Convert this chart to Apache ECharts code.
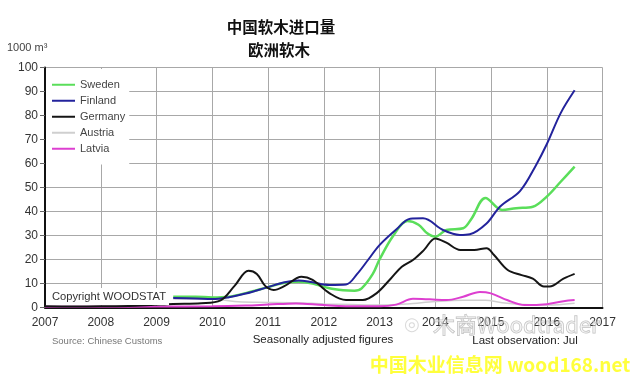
<!DOCTYPE html>
<html>
<head>
<meta charset="utf-8">
<script src="https://cdn.jsdelivr.net/npm/echarts@6/dist/echarts.min.js"></script>
<style>
html,body{margin:0;padding:0;background:#fff;}
#c{width:641px;height:381px;}
</style>
</head>
<body>
<div id="c"></div>
<script>
// ---- data (year as decimal, value in 1000 m3) ----
var yearTicks = [2007, 2008, 2009, 2010, 2011, 2012, 2013, 2014, 2015, 2016, 2017];
var seriesNames = ['Sweden', 'Finland', 'Germany', 'Austria', 'Latvia'];

var sweden = [[2009.3,4.5],[2009.7,4.5],[2010.0,4.2],[2010.3,4.5],[2010.6,6],[2011.0,8.5],[2011.3,10.3],[2011.55,10.7],[2011.8,10],[2012.1,8],[2012.35,7.2],[2012.55,7.0],[2012.68,8],[2012.88,14],[2013.0,20],[2013.25,30],[2013.5,36],[2013.7,34.5],[2013.85,31],[2014.0,29.5],[2014.2,32.3],[2014.5,33],[2014.65,37],[2014.9,45.6],[2015.2,40.6],[2015.45,41.4],[2015.75,42],[2016.0,46.2],[2016.25,52.4],[2016.5,58.7]];

var finland = [[2009.3,4],[2009.7,3.8],[2010.0,3.5],[2010.3,4.3],[2010.6,5.8],[2011.0,8.5],[2011.3,10.5],[2011.55,11.3],[2011.8,10.5],[2012.1,9.4],[2012.4,9.6],[2012.6,14],[2012.8,20],[2013.0,26],[2013.3,32.5],[2013.55,37],[2013.78,37.2],[2014.14,32.3],[2014.44,30.2],[2014.62,30.5],[2014.92,35],[2015.16,42],[2015.52,48.5],[2015.8,59],[2016.0,68],[2016.25,81],[2016.5,90.5]];

var germany = [[2007.0,0.5],[2007.5,0.4],[2008.0,0.5],[2008.5,0.6],[2008.9,1.0],[2009.3,1.5],[2009.8,1.8],[2010.15,3],[2010.4,9],[2010.65,15.3],[2010.8,14],[2010.95,9],[2011.1,7.3],[2011.3,9],[2011.6,12.8],[2011.8,11.5],[2012.1,6],[2012.4,3.1],[2012.7,3.1],[2012.95,6],[2013.2,12],[2013.4,17],[2013.6,19.8],[2013.8,24],[2014.0,28.8],[2014.2,27],[2014.45,24],[2014.7,24],[2014.92,24.7],[2015.05,22],[2015.3,15.6],[2015.55,13.5],[2015.75,12],[2015.95,8.7],[2016.05,8.7],[2016.3,12],[2016.5,14]];

var austria = [[2009.3,3.5],[2010.0,3.5],[2010.4,2.5],[2010.8,2.2],[2011.5,2.0],[2012.0,1.5],[2012.5,1.2],[2013.0,1.0],[2013.5,1.5],[2014.0,2.5],[2014.5,3.0],[2014.9,3.0],[2015.2,2.0],[2015.6,1.3],[2016.0,1.0],[2016.5,1.8]];

var latvia = [[2007.0,0.3],[2008.0,0.3],[2009.0,0.4],[2010.0,0.5],[2010.6,0.8],[2011.0,1.2],[2011.5,1.7],[2012.0,1.0],[2012.6,0.5],[2013.0,0.5],[2013.3,1.2],[2013.6,3.6],[2013.9,3.4],[2014.2,3.1],[2014.5,4.5],[2014.8,6.5],[2015.0,5.9],[2015.3,3],[2015.6,1],[2016.0,1.4],[2016.3,2.6],[2016.5,3.1]];

var seriesData = {Sweden: sweden, Finland: finland, Germany: germany, Austria: austria, Latvia: latvia};
var colors = {Sweden:'#5ade5a', Finland:'#23239c', Germany:'#151515', Austria:'#cfcfcf', Latvia:'#dd3fd0'};
var widths = {Sweden:2.5, Finland:2, Germany:2, Austria:1.5, Latvia:2};
var drawOrder = ['Austria','Latvia','Sweden','Finland','Germany'];

var FONT = 'Liberation Sans, Arial, sans-serif';
var chart = echarts.init(document.getElementById('c'), null, {renderer:'canvas'});

var series = drawOrder.map(function(n){
  return {
    name:n, type:'line', data:seriesData[n], showSymbol:false, smooth:0.35,
    lineStyle:{color:colors[n], width:widths[n]}, itemStyle:{color:colors[n]},
    animation:false, z:3
  };
});

chart.setOption({
  animation:false,
  backgroundColor:'#fff',
  grid:{left:45, top:67.5, right:38.5, bottom:73.5, containLabel:false},
  xAxis:{
    type:'value', min:yearTicks[0], max:yearTicks[yearTicks.length-1], interval:1,
    axisLine:{show:true, onZero:false, lineStyle:{color:'#111', width:2}},
    axisTick:{show:false},
    axisLabel:{color:'#333', fontSize:12, fontFamily:FONT, margin:9, formatter:function(v){return String(v);}},
    splitLine:{show:true, lineStyle:{color:'#a8a8a8', width:1}}
  },
  yAxis:{
    type:'value', min:0, max:100, interval:10,
    axisLine:{show:true, lineStyle:{color:'#111', width:2}},
    axisTick:{show:true, length:5, lineStyle:{color:'#666', width:1}},
    axisLabel:{color:'#333', fontSize:12, fontFamily:FONT, margin:7},
    splitLine:{show:true, lineStyle:{color:'#a8a8a8', width:1}}
  },
  legend:{
    data:seriesNames, orient:'vertical', left:46, top:69,
    backgroundColor:'#fff', padding:[9,4,9,6], itemGap:2.5,
    itemWidth:23, itemHeight:2, icon:'rect',
    textStyle:{color:'#444', fontSize:11, fontFamily:FONT, lineHeight:13.5},
    selectedMode:false, z:10
  },
  graphic:[
    {type:'text', x:281, y:27, z:100, style:{text:'中国软木进口量', fill:'#111', font:'bold 15.5px "Noto Sans CJK SC", sans-serif', textAlign:'center', textVerticalAlign:'middle'}},
    {type:'text', x:279, y:50, z:100, style:{text:'欧洲软木', fill:'#111', font:'bold 15.5px "Noto Sans CJK SC", sans-serif', textAlign:'center', textVerticalAlign:'middle'}},
    {type:'text', x:7, y:48, z:100, style:{text:'1000 m³', fill:'#444', font:'11px '+FONT, textAlign:'left', textVerticalAlign:'middle'}},
    {type:'rect', shape:{x:46, y:288, width:123, height:17}, style:{fill:'#fff'}, z:50},
    {type:'text', x:52, y:297, z:51, style:{text:'Copyright WOODSTAT', fill:'#333', font:'11.2px '+FONT, textAlign:'left', textVerticalAlign:'middle'}},
    {type:'text', x:52, y:341, z:100, style:{text:'Source: Chinese Customs', fill:'#777', font:'9.5px '+FONT, textAlign:'left', textVerticalAlign:'middle'}},
    {type:'text', x:323, y:340, z:100, style:{text:'Seasonally adjusted figures', fill:'#222', font:'11.5px '+FONT, textAlign:'center', textVerticalAlign:'middle'}},
    {type:'text', x:525, y:341, z:100, style:{text:'Last observation: Jul', fill:'#222', font:'11.5px '+FONT, textAlign:'center', textVerticalAlign:'middle'}},
    {type:'text', x:404, y:325, z:100, style:{text:'◎', fill:'rgba(150,150,150,0.35)', font:'18px "DejaVu Sans", sans-serif', textAlign:'left', textVerticalAlign:'middle'}},
    {type:'text', x:433, y:325, z:100, style:{text:'木商Woodtrader', fill:'rgba(255,255,255,0.35)', stroke:'rgba(150,150,150,0.6)', lineWidth:1, font:'22px "Noto Sans CJK SC", sans-serif', textAlign:'left', textVerticalAlign:'middle'}},
    {type:'text', x:500, y:365, z:100, style:{text:'中国木业信息网 wood168.net', fill:'#ffff3c', font:'bold 19px "Noto Sans CJK SC", sans-serif', textAlign:'center', textVerticalAlign:'middle'}}
  ],
  series:series
});
</script>
</body>
</html>
